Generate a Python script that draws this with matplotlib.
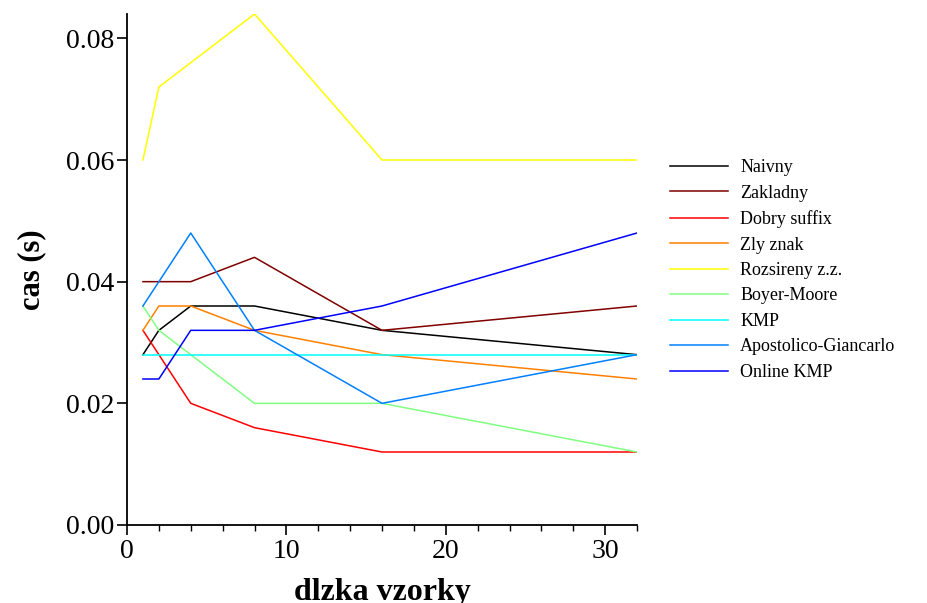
import matplotlib
matplotlib.use("Agg")
import matplotlib.pyplot as plt
from matplotlib.ticker import MultipleLocator, FormatStrFormatter

# pattern length and run time (s) per algorithm
x = [1, 2, 4, 8, 16, 32]
naivny = [0.028, 0.032, 0.036, 0.036, 0.032, 0.028]
zakladny = [0.040, 0.040, 0.040, 0.044, 0.032, 0.036]
dobry_suffix = [0.032, 0.028, 0.020, 0.016, 0.012, 0.012]
zly_znak = [0.032, 0.036, 0.036, 0.032, 0.028, 0.024]
rozsireny = [0.060, 0.072, 0.076, 0.084, 0.060, 0.060]
boyer_moore = [0.036, 0.032, 0.028, 0.020, 0.020, 0.012]
kmp = [0.028, 0.028, 0.028, 0.028, 0.028, 0.028]
apostolico = [0.036, 0.040, 0.048, 0.032, 0.020, 0.028]
online_kmp = [0.024, 0.024, 0.032, 0.032, 0.036, 0.048]

series = [
    ("Naivny", naivny, "#000000"),
    ("Zakladny", zakladny, "#800000"),
    ("Dobry suffix", dobry_suffix, "#ff0000"),
    ("Zly znak", zly_znak, "#ff8000"),
    ("Rozsireny z.z.", rozsireny, "#ffff00"),
    ("Boyer-Moore", boyer_moore, "#80ff80"),
    ("KMP", kmp, "#00ffff"),
    ("Apostolico-Giancarlo", apostolico, "#0080ff"),
    ("Online KMP", online_kmp, "#0000ff"),
]

plt.rcParams['font.family'] = ['Liberation Serif', 'DejaVu Serif']

fig = plt.figure(figsize=(9.27, 6.03), dpi=100)
ax = fig.add_axes([127 / 927, 1 - 525 / 603, 510 / 927, 511 / 603])

for name, vals, col in series:
    ax.plot(x, vals, color=col, lw=1.1, label=name)

ax.set_xlim(0, 32)
ax.set_ylim(0, 0.084)
ax.xaxis.set_major_locator(MultipleLocator(10))
ax.xaxis.set_minor_locator(MultipleLocator(2))
ax.yaxis.set_major_locator(MultipleLocator(0.02))
ax.yaxis.set_major_formatter(FormatStrFormatter('%.2f'))

ax.spines['top'].set_visible(False)
ax.spines['right'].set_visible(False)
ax.spines['left'].set_linewidth(1.3)
ax.spines['bottom'].set_linewidth(1.3)
ax.tick_params(axis='both', which='major', labelsize=20, length=7, width=1.2, direction='out', pad=2)
ax.tick_params(axis='x', which='major', pad=3)
ax.tick_params(axis='x', which='minor', length=4, width=1.0)

ax.set_xlabel('dlzka vzorky', fontsize=23, fontweight='bold', labelpad=10)
ax.set_ylabel('cas (s)', fontsize=22, fontweight='bold', labelpad=14)

ax.legend(loc='upper left', bbox_to_anchor=(1.05, 0.73), frameon=False,
          fontsize=13, handlelength=3.2, handletextpad=0.7, labelspacing=0.47,
          borderaxespad=0)

fig.savefig('out.png', dpi=100)
